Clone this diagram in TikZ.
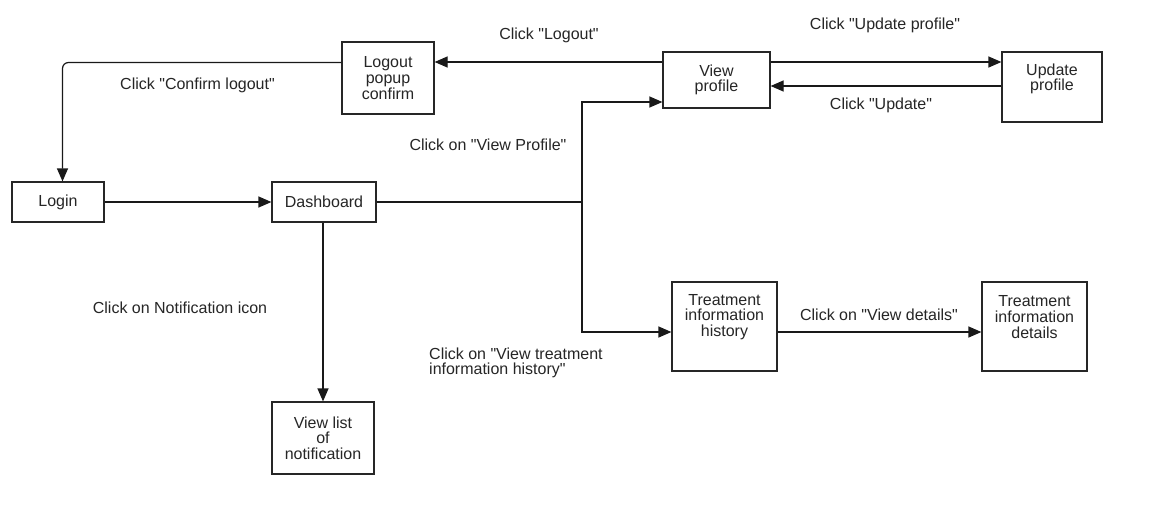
\documentclass[tikz,border=0pt]{standalone}
\usepackage{fontspec}
\setmainfont{Liberation Sans}[Ligatures=TeXOff]
\usetikzlibrary{arrows.meta}
\begin{document}
\begin{tikzpicture}[x=1pt,y=-1pt,
  every node/.style={font=\fontsize{16}{15.7}\selectfont, text=black!85},
  box/.style={draw=black!85, line width=1.2pt, inner sep=0pt, align=center, fill=white},
  lbl/.style={inner sep=0pt, align=center},
  line/.style={line width=1.2pt, draw=black!90},
  conn/.style={line, -{Triangle[length=13pt,width=11pt]}},
]
\useasboundingbox[fill=white] (0,0) rectangle (1152,525);

% boxes
\node[box, minimum width=92pt, minimum height=40pt] (login) at (58,202) {Login};
\node[box, minimum width=104pt, minimum height=40pt] (dash) at (324,202) {Dashboard};
\node[box, minimum width=92pt, minimum height=72pt] (logout) at (388,78) {Logout\\popup\\confirm};
\node[box, minimum width=107pt, minimum height=56pt] (view) at (716.5,80) {View\\profile};
\node[box, minimum width=100pt, minimum height=70pt] (upd) at (1052,87) {};
\node[lbl] (updt) at (1052,79) {Update\\profile};
\node[box, minimum width=105pt, minimum height=89pt] (hist) at (724.5,326.5) {};
\node[lbl] (histt) at (724.5,317) {Treatment\\information\\history};
\node[box, minimum width=105pt, minimum height=89pt] (det) at (1034.5,326.5) {};
\node[lbl] (dett) at (1034.5,317) {Treatment\\information\\details};
\node[box, minimum width=102pt, minimum height=72pt] (notif) at (323,438) {View list\\of\\notification};

% junction
\coordinate (j) at (582,202);

% connectors
\draw[conn, rounded corners=6pt] ([yshift=15.5pt]logout.west) -| ([xshift=4.5pt]login.north);
\draw[conn] ([yshift=18pt]view.west) -- ([yshift=18pt]view.west -| logout.east);
\draw[conn] ([yshift=18pt]view.east) -- ([yshift=18pt]view.east -| upd.west);
\draw[conn] ([yshift=-6pt]view.east -| upd.west) -- ([yshift=-6pt]view.east);
\draw[conn] (login) -- (dash);
\draw[line] (dash.east) -- (j);
\draw[conn] (j) |- ([yshift=-22pt]view.west);
\draw[conn] (j) |- ([yshift=-5.5pt]hist.west);
\draw[conn] ([yshift=-5.5pt]hist.east) -- ([yshift=-5.5pt]hist.east -| det.west);
\draw[conn] (notif.north |- dash.south) -- (notif.north);

% labels
\node[lbl] (l1) at (549,35) {Click "Logout"};
\node[lbl] (l2) at (197.5,85) {Click "Confirm logout"};
\node[lbl] (l3) at (488,145) {Click on "View Profile"};
\node[lbl] (l4) at (885,25) {Click "Update profile"};
\node[lbl] (l5) at (881,105) {Click "Update"};
\node[lbl] (l6) at (180,308) {Click on Notification icon};
\node[lbl, align=left, anchor=west] (l7) at (429,363) {Click on "View treatment\\information history"};
\node[lbl] (l8) at (879,315) {Click on "View details"};
\end{tikzpicture}
\end{document}
